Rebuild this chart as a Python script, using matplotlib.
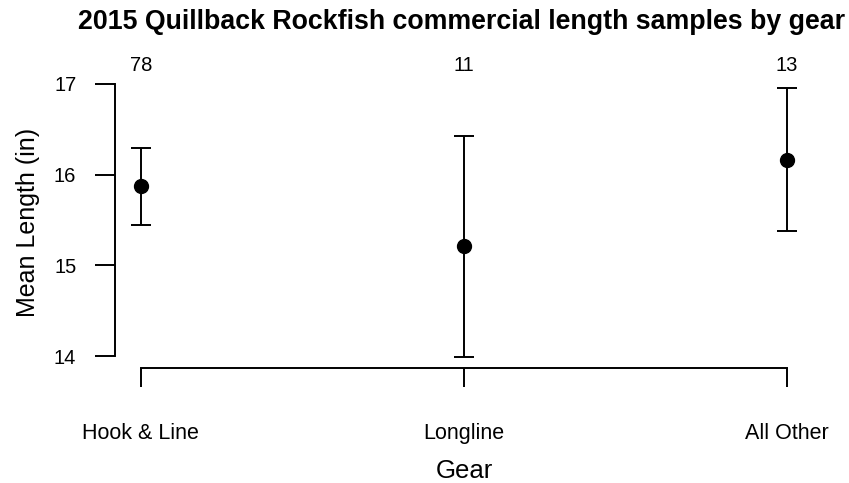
import matplotlib.pyplot as plt
import matplotlib.transforms as mtransforms

plt.rcParams['font.family'] = ['Liberation Sans', 'DejaVu Sans']

gears = ['Hook & Line', 'Longline', 'All Other']
counts = [78, 11, 13]
mean_len = [15.87, 15.21, 16.16]
lower = [15.45, 13.99, 15.38]
upper = [16.29, 16.43, 16.96]

fig = plt.figure(figsize=(8.49, 4.83), dpi=100)
ax = fig.add_axes([0.1355, 0.2381, 0.8221, 0.6031])

x = list(range(len(gears)))
yerr = [[m - lo for m, lo in zip(mean_len, lower)],
        [hi - m for m, hi in zip(mean_len, upper)]]
ax.errorbar(x, mean_len, yerr=yerr, fmt='o', color='black', ms=10,
            elinewidth=1.4, capsize=7.2, capthick=1.4)

ax.set_xlim(-0.08, 2.08)
ax.set_ylim(13.868, 17.08)
ax.set_yticks([14, 15, 16, 17])
ax.set_xticks(x)
ax.set_xticklabels(gears)

for s in ['top', 'right']:
    ax.spines[s].set_visible(False)
ax.spines['left'].set_bounds(14, 17)
ax.spines['bottom'].set_bounds(0, 2)
for s in ['left', 'bottom']:
    ax.spines[s].set_linewidth(1.4)

ax.tick_params(axis='y', length=14.4, width=1.4, pad=13.5, labelsize=14.5)
ax.tick_params(axis='x', length=13.7, width=1.4, pad=26, labelsize=15.5)

trans = mtransforms.blended_transform_factory(ax.transData, ax.transAxes)
for xi, n in zip(x, counts):
    ax.text(xi, 1.04, str(n), transform=trans, ha='center', va='center',
            fontsize=14.5)

ax.set_xlabel('Gear', fontsize=18.5, labelpad=11)
ax.set_ylabel('Mean Length (in)', fontsize=18, labelpad=10)
fig.text(0.544, 1 - 22 / 483, '2015 Quillback Rockfish commercial length samples by gear',
         ha='center', va='center', fontsize=19.3, fontweight='bold')

fig.savefig('out.png', dpi=100)
